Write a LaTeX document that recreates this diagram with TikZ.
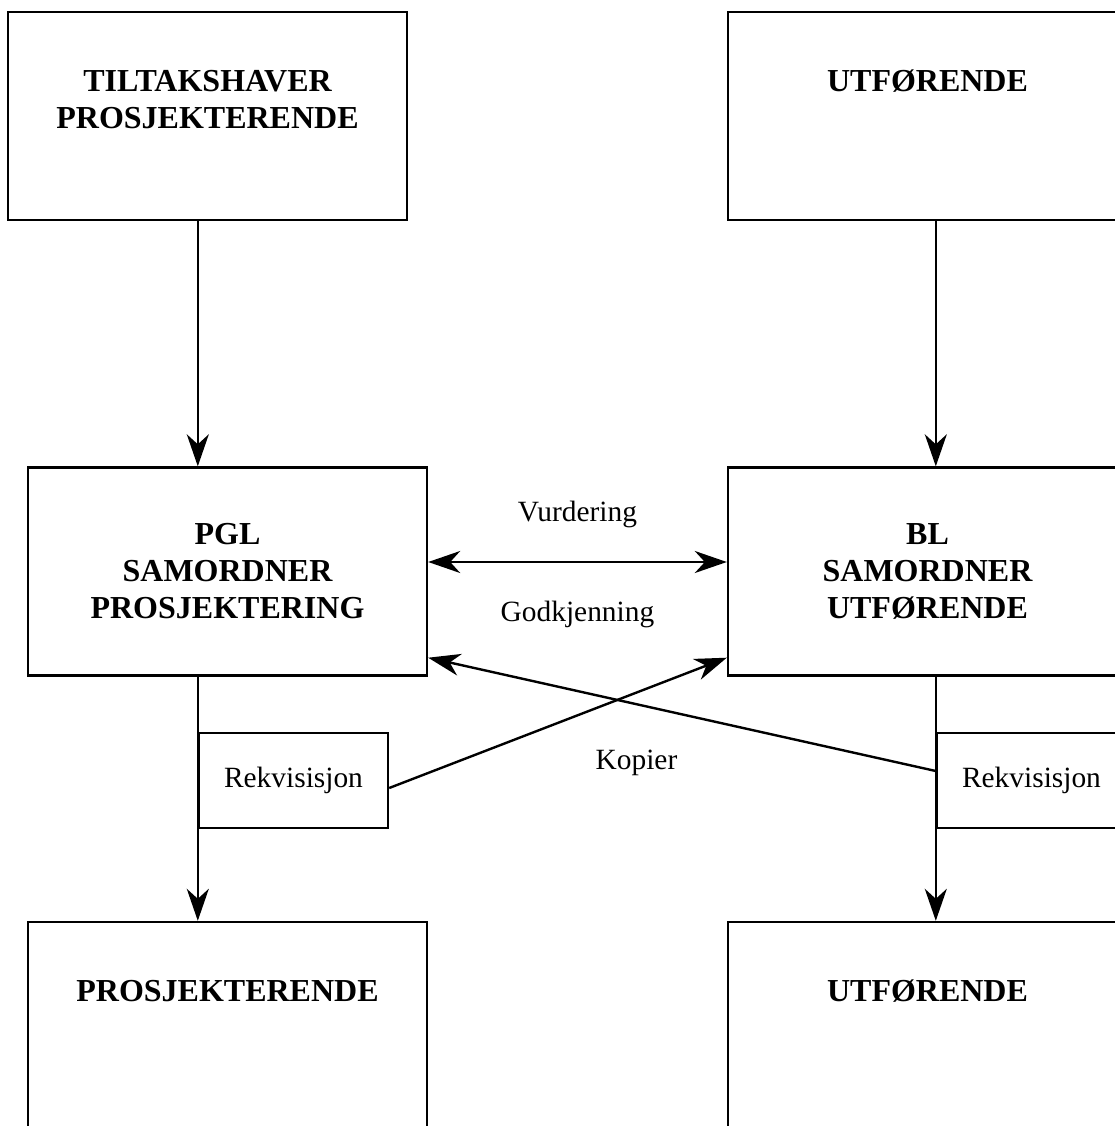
\documentclass[tikz,border=0pt]{standalone}
\usepackage{fontspec}
\setmainfont{Liberation Serif}
\usetikzlibrary{arrows.meta, positioning}

\begin{document}
\begin{tikzpicture}[x=0.5pt, y=-0.5pt, line width=1.2pt,
        >={Stealth[length=16pt,width=11pt,inset=5pt]},
        bigbox/.style={draw, minimum width=199.5pt, minimum height=104pt, inner sep=0pt,
            align=center, font=\fontsize{16pt}{18.5pt}\selectfont\bfseries},
        smallbox/.style={draw, minimum width=94.5pt, minimum height=47.5pt, inner sep=0pt,
            font=\fontsize{14.7pt}{17pt}\selectfont},
        title/.style={inner sep=0pt, align=center, font=\fontsize{16pt}{18.5pt}\selectfont\bfseries},
        lbl/.style={inner sep=0pt, font=\fontsize{14.7pt}{17pt}\selectfont}]
        \clip (0,0) rectangle (1115,1126);
        % top row
        \node[bigbox] (tl) at (207.5,116) {};
        \node[title, below=29pt of tl.north] (tltext) {TILTAKSHAVER\\PROSJEKTERENDE};
        \node[bigbox] (tr) at (927.5,116) {};
        \node[title, below=29pt of tr.north] (trtext) {UTFØRENDE};
        % middle row
        \node[bigbox] (ml) at (227.5,571.5) {PGL\\SAMORDNER\\PROSJEKTERING};
        \node[bigbox] (mr) at (927.5,571.5) {BL\\SAMORDNER\\UTFØRENDE};
        % bottom row
        \node[bigbox] (bl) at (227.5,1026) {};
        \node[title, below=29pt of bl.north] (bltext) {PROSJEKTERENDE};
        \node[bigbox] (br) at (927.5,1026) {};
        \node[title, below=29pt of br.north] (brtext) {UTFØRENDE};
        % requisitions
        \node[smallbox] (rl) at (293.5,780.5) {Rekvisisjon};
        \node[smallbox] (rr) at (1031.5,780.5) {Rekvisisjon};
        % arrows
        \draw[->] (tl.south -| rl.west) -- (ml.north -| rl.west);
        \draw[->] (tr.south -| rr.west) -- (mr.north -| rr.west);
        \draw[->] (ml.south -| rl.west) -- (bl.north -| rl.west);
        \draw[->] (mr.south -| rr.west) -- (br.north -| rr.west);
        \draw[<->] ([yshift=4.75pt]ml.east) --
            node[lbl, above=16.5pt] (vurd) {Vurdering}
            node[lbl, below=19pt] (godk) {Godkjenning}
            ([yshift=4.75pt]mr.west);
        \draw[->] ([yshift=-3.75pt]rl.east) -- ([yshift=9.5pt]mr.south west);
        \draw[->] ([yshift=4.75pt]rr.west) -- ([yshift=9.5pt]ml.south east);
        \node[lbl] (kopier) at (636.5,763) {Kopier};
\end{tikzpicture}
\end{document}
